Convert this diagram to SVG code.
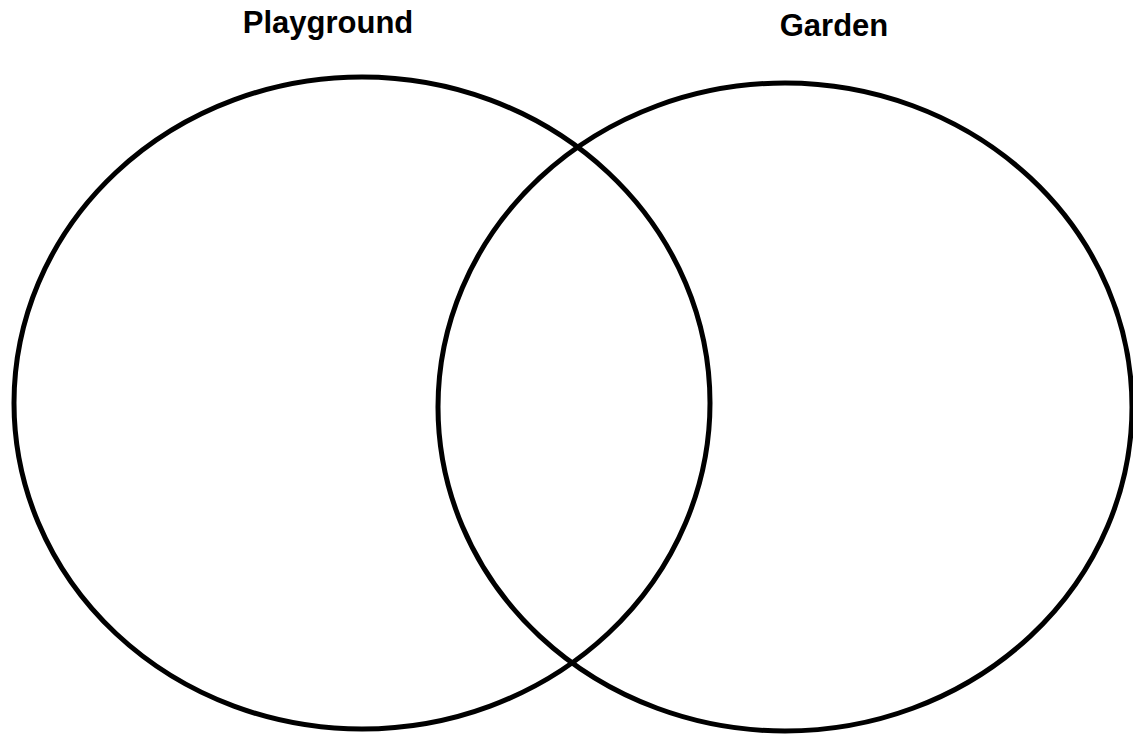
<svg xmlns="http://www.w3.org/2000/svg" width="1133" height="736" viewBox="0 0 1133 736">
<style>
.c{fill:none;stroke:#000;stroke-width:5}
.t{font-family:"Liberation Sans",Arial,sans-serif;font-weight:bold;font-size:31px;fill:#000;text-anchor:middle}
</style>
<rect width="1133" height="736" fill="#fff"/>
<g id="playground">
<ellipse class="c" cx="362" cy="403" rx="348" ry="326"/>
<text class="t" x="328" y="33">Playground</text>
</g>
<g id="garden">
<ellipse class="c" cx="785" cy="407" rx="347" ry="324"/>
<text class="t" x="834" y="36">Garden</text>
</g>
<g id="connectors"></g>
</svg>
